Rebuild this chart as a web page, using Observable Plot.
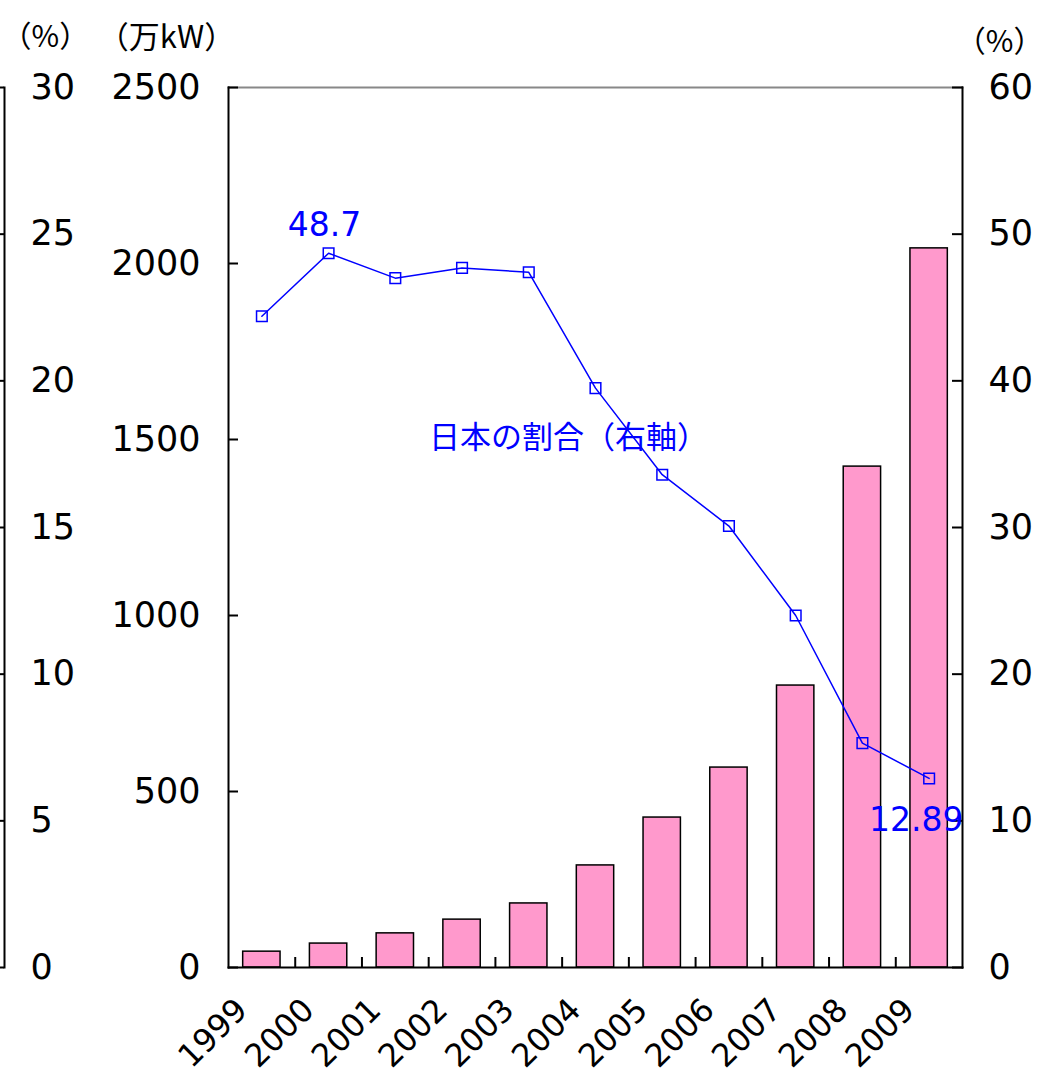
<!DOCTYPE html>
<html>
<head>
<meta charset="utf-8">
<script src="https://cdn.jsdelivr.net/npm/d3@7"></script>
<script src="https://cdn.jsdelivr.net/npm/@observablehq/plot@0.6"></script>
<style>
  html, body { margin: 0; padding: 0; background: #fff; }
  #chart svg { display: block; }
</style>
</head>
<body>
<div id="chart"></div>
<script>
// ---- data ----
const years = ["1999","2000","2001","2002","2003","2004","2005","2006","2007","2008","2009"];
const capacity = [45, 68, 97, 136, 182, 290, 426, 568, 801, 1423, 2043]; // 万kW
const japanShare = [44.4, 48.7, 47.0, 47.7, 47.4, 39.5, 33.6, 30.1, 24.0, 15.3, 12.89]; // %
const leftTicks = [0, 500, 1000, 1500, 2000, 2500];
const rightTicks = [0, 10, 20, 30, 40, 50, 60];
const farLeftTicks = [0, 5, 10, 15, 20, 25, 30];
const annotatedYears = ["2000", "2009"];
const seriesLabel = "日本の割合（右軸）";
const unitLabels = { farLeft: "（%）", left: "（万kW）", right: "（%）" };

// ---- layout ----
const W = 1044, H = 1081;
const mL = 228, mR = 82, mT = 87, mB = 114;
const yMax = 2500, rightMax = 60, farLeftMax = 30;
const kR = yMax / rightMax, kF = yMax / farLeftMax;
const padIn = 0.44, padOut = 0.22;
const step = (W - mL - mR) / (years.length - padIn + 2 * padOut);

const table = years.map((y, i) => ({year: y, cap: capacity[i], share: japanShare[i]}));

const numFont = "DejaVu Sans, sans-serif";
const jpFont = "'Noto Sans CJK JP', sans-serif";

const chart = Plot.plot({
  width: W, height: H,
  marginLeft: mL, marginRight: mR, marginTop: mT, marginBottom: mB,
  style: {fontFamily: numFont, background: "#fff", color: "#000"},
  x: {domain: years, paddingInner: padIn, paddingOuter: padOut, round: false, axis: null},
  y: {domain: [0, yMax], axis: null},
  marks: [
    // bars
    Plot.barY(table, {x: "year", y: "cap", fill: "#FF99CC", stroke: "#000", strokeWidth: 1.5}),
    // frame pieces
    Plot.frame({anchor: "top", stroke: "#888", strokeWidth: 2}),
    Plot.frame({anchor: "left", stroke: "#000", strokeWidth: 2}),
    Plot.frame({anchor: "right", stroke: "#000", strokeWidth: 2}),
    Plot.frame({anchor: "bottom", stroke: "#000", strokeWidth: 2}),
    Plot.frame({anchor: "left", stroke: "#000", strokeWidth: 2, dx: -(mL - 4)}),
    // main left axis (万kW)
    Plot.axisY(leftTicks, {anchor: "left", tickSize: -10, tickPadding: 38, strokeWidth: 2, fontSize: 35, label: null, tickFormat: v => String(v)}),
    // right axis (%)
    Plot.axisY(rightTicks.map(v => v * kR), {anchor: "right", tickSize: -11, tickPadding: 37, strokeWidth: 2, fontSize: 35, label: null, tickFormat: v => String(Math.round(v / kR))}),
    // far left axis (%)
    Plot.axisY(farLeftTicks.map(v => v * kF), {anchor: "left", dx: -(mL - 4), tickSize: 4, tickPadding: -30, textAnchor: "start", strokeWidth: 2, fontSize: 35, label: null, tickFormat: v => String(Math.round(v / kF))}),
    // x axis boundary ticks
    Plot.axisX(years.slice(1), {anchor: "bottom", tickSize: -10, strokeWidth: 2, dx: -step / 2, tickFormat: () => "", label: null}),
    // x axis labels
    Plot.axisX(years, {anchor: "bottom", tickSize: 0, tickRotate: -45, tickPadding: 37, dx: -20, fontSize: 32, label: null}),
    // share line
    Plot.line(table, {x: "year", y: d => d.share * kR, stroke: "#0000FF", strokeWidth: 1.5}),
    Plot.dot(table, {x: "year", y: d => d.share * kR, symbol: "square", r: 6, stroke: "#0000FF", strokeWidth: 1.5, fill: "none"}),
    // annotations
    Plot.text(table.filter(d => d.year === annotatedYears[0]), {x: "year", y: d => d.share * kR, text: d => String(d.share), fill: "#0000FF", fontSize: 33, dx: -4, dy: -28}),
    Plot.text(table.filter(d => d.year === annotatedYears[1]), {x: "year", y: d => d.share * kR, text: d => String(d.share), fill: "#0000FF", fontSize: 33, dx: -13, dy: 42}),
    Plot.text([seriesLabel], {frameAnchor: "top-left", textAnchor: "middle", dx: 340, dy: 338, text: d => d, fill: "#0000FF", fontSize: 31, fontFamily: jpFont}),
    // unit labels
    Plot.text([unitLabels.farLeft], {frameAnchor: "top-left", textAnchor: "start", dx: 1 - mL, dy: 25 - mT, text: d => d, fontSize: 30, fontFamily: jpFont}),
    Plot.text([unitLabels.left], {frameAnchor: "top-left", textAnchor: "middle", dx: 166 - mL, dy: 25 - mT, text: d => d, fontSize: 31, fontFamily: jpFont}),
    Plot.text([unitLabels.right], {frameAnchor: "top-right", textAnchor: "end", dx: mR - 1, dy: 30 - mT, text: d => d, fontSize: 30, fontFamily: jpFont})
  ]
});
document.getElementById("chart").appendChild(chart);
</script>
</body>
</html>
